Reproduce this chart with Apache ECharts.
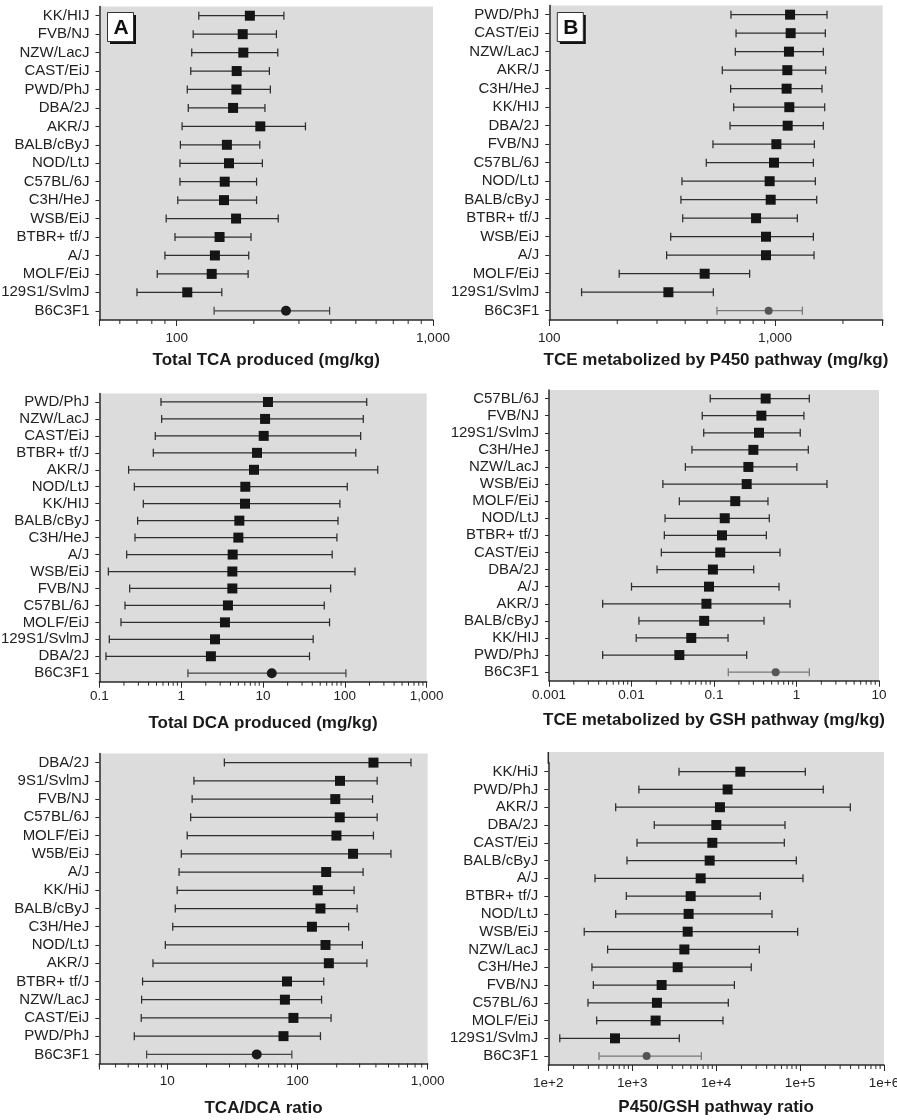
<!DOCTYPE html>
<html>
<head>
<meta charset="utf-8">
<script src="https://cdn.jsdelivr.net/npm/echarts/dist/echarts.min.js"></script>
<style>
html,body{margin:0;padding:0;background:#fff;}
#chart{width:897px;height:1120px;}
</style>
</head>
<body>
<div id="chart"></div>
<script>
// ---------- DATA ----------
const catsA = ['KK/HIJ','FVB/NJ','NZW/LacJ','CAST/EiJ','PWD/PhJ','DBA/2J','AKR/J','BALB/cByJ','NOD/LtJ','C57BL/6J','C3H/HeJ','WSB/EiJ','BTBR+ tf/J','A/J','MOLF/EiJ','129S1/SvlmJ','B6C3F1'];
const midA  = [193,181,182,171.5,171,166,212,157,160,154,153,170.5,147,141,137,110,267];
const lowA  = [122,116,114.5,113.5,110,111,105,103.4,103,103,101,91,98.5,90,84,70,140];
const highA = [262,245,248,230,232,221,318,211,216,205,205,249,195,191,190,150,395];

const catsB = ['PWD/PhJ','CAST/EiJ','NZW/LacJ','AKR/J','C3H/HeJ','KK/HIJ','DBA/2J','FVB/NJ','C57BL/6J','NOD/LtJ','BALB/cByJ','BTBR+ tf/J','WSB/EiJ','A/J','MOLF/EiJ','129S1/SvlmJ','B6C3F1'];
const midB  = [1166,1173,1153,1134,1126,1157,1138,1014,990,947,957,824,912,912,488,337,937];
const lowB  = [638,672,667,584,636,656,632,531,496,387,383,390,345,331,204,139,553];
const highB = [1700,1671,1637,1677,1615,1660,1637,1494,1479,1509,1530,1256,1479,1489,772,533,1322];

const catsC = ['PWD/PhJ','NZW/LacJ','CAST/EiJ','BTBR+ tf/J','AKR/J','NOD/LtJ','KK/HIJ','BALB/cByJ','C3H/HeJ','A/J','WSB/EiJ','FVB/NJ','C57BL/6J','MOLF/EiJ','129S1/SvlmJ','DBA/2J','B6C3F1'];
const midC  = [11.5,10.6,10.2,8.45,7.76,6.08,6.03,5.14,5.0,4.26,4.22,4.22,3.73,3.43,2.59,2.31,12.8];
const lowC  = [0.567,0.578,0.483,0.457,0.228,0.268,0.345,0.294,0.273,0.216,0.129,0.235,0.206,0.184,0.1325,0.1206,1.21];
const highC = [185,168,156,136,252,107,87,82.5,80,70,133,67,56,65,41,37,103];

const catsD = ['C57BL/6J','FVB/NJ','129S1/SvlmJ','C3H/HeJ','NZW/LacJ','WSB/EiJ','MOLF/EiJ','NOD/LtJ','BTBR+ tf/J','CAST/EiJ','DBA/2J','A/J','AKR/J','BALB/cByJ','KK/HIJ','PWD/PhJ','B6C3F1'];
const midD  = [0.423,0.375,0.351,0.30,0.261,0.249,0.181,0.135,0.125,0.119,0.097,0.087,0.081,0.076,0.053,0.038,0.559];
const lowD  = [0.090,0.072,0.075,0.054,0.045,0.024,0.038,0.0255,0.025,0.023,0.0204,0.010,0.00447,0.0123,0.0114,0.00447,0.149];
const highD = [1.43,1.23,1.11,1.39,1.01,2.34,0.451,0.468,0.431,0.631,0.303,0.614,0.834,0.404,0.148,0.249,1.43];

const catsE = ['DBA/2J','9S1/SvlmJ','FVB/NJ','C57BL/6J','MOLF/EiJ','W5B/EiJ','A/J','KK/HiJ','BALB/cByJ','C3H/HeJ','NOD/LtJ','AKR/J','BTBR+ tf/J','NZW/LacJ','CAST/EiJ','PWD/PhJ','B6C3F1'];
const midE  = [383,212,195,211,199,267,166,143,150,129,164,174,83,80,93,78,48.6];
const lowE  = [27.4,16.0,15.5,15.1,14.2,12.8,12.3,11.9,11.5,11.0,9.65,7.75,6.45,6.34,6.3,5.57,6.93];
const highE = [744,409,377,409,383,522,319,272,287,247,315,341,159,153,181,150,90.4];

const catsF = ['KK/HiJ','PWD/PhJ','AKR/J','DBA/2J','CAST/EiJ','BALB/cByJ','A/J','BTBR+ tf/J','NOD/LtJ','WSB/EiJ','NZW/LacJ','C3H/HeJ','FVB/NJ','C57BL/6J','MOLF/EiJ','129S1/SvlmJ','B6C3F1'];
const midF  = [19400,13700,11100,10050,9000,8370,6540,4970,4700,4580,4180,3480,2240,1970,1900,623,1485];
const lowF  = [3610,1200,635,1830,1140,866,360,850,635,268,509,331,344,297,377,137,402];
const highF = [115500,189000,397000,66100,64900,90200,108300,33600,46300,93600,32700,26200,16500,13960,12060,3640,6660];

const axisTitles = ['Total TCA produced (mg/kg)','TCE metabolized by P450 pathway (mg/kg)','Total DCA produced (mg/kg)','TCE metabolized by GSH pathway (mg/kg)','TCA/DCA ratio','P450/GSH pathway ratio'];
const panelLetters = ['A','B'];

// ---------- LAYOUT / STYLE ----------
const panels = [
  {cats:catsA, mid:midA, low:lowA, high:highA, min:50,    max:1000, fmt:'comma', g:{left:99.5, top:6.5,  width:333.5, height:313.5}, lm:11,  gap:32,   refDot:'#1a1a1a', refBar:'#444', refSize:10},
  {cats:catsB, mid:midB, low:lowB, high:highB, min:100,   max:3000, fmt:'comma', g:{left:549.3,top:5.4,  width:333.4, height:314.6}, lm:11,  gap:32,   refDot:'#555',    refBar:'#777', refSize:8},
  {cats:catsC, mid:midC, low:lowC, high:highC, min:0.1,   max:1000, fmt:'comma', g:{left:99.3, top:393.5,width:327.4, height:288.2}, lm:7.5, gap:33.5, refDot:'#1a1a1a', refBar:'#444', refSize:10},
  {cats:catsD, mid:midD, low:lowD, high:highD, min:0.001, max:10,   fmt:'comma', g:{left:549,  top:390,  width:330,   height:290.7}, lm:8,   gap:31,   refDot:'#555',    refBar:'#777', refSize:8},
  {cats:catsE, mid:midE, low:lowE, high:highE, min:3,     max:1000, fmt:'comma', g:{left:99.3, top:753.5,width:328.4, height:310},   lm:11,  gap:36.5, refDot:'#1a1a1a', refBar:'#444', refSize:10},
  {cats:catsF, mid:midF, low:lowF, high:highF, min:100,   max:1e6,  fmt:'exp',   g:{left:548.3,top:762.8,width:335.7, height:302.2}, lm:11,  gap:33.5, refDot:'#555',    refBar:'#777', refSize:8}
];

const BG = '#dcdcdc';
const AX = '#2a2a2a';
const FONT = '"Liberation Sans", Arial, sans-serif';

function tickFormatter(kind) {
  return function (v) {
    const l = Math.log10(v);
    const e = Math.round(l);
    if (Math.abs(l - e) > 1e-6) return '';
    if (kind === 'exp') return '1e+' + e;
    const n = Math.pow(10, e);
    return n >= 1 ? n.toLocaleString('en-US') : String(+n.toPrecision(1));
  };
}

function minorTickValues(min, max) {
  const out = [];
  for (let d = Math.floor(Math.log10(min)) - 1; d <= Math.ceil(Math.log10(max)); d++) {
    for (let m = 2; m <= 9; m++) {
      const v = m * Math.pow(10, d);
      if (v >= min * 0.9999 && v <= max * 1.0001) out.push(v);
    }
  }
  return out;
}

const grids = [], xAxes = [], yAxes = [], series = [];
panels.forEach((p, i) => {
  grids.push(Object.assign({show:true, backgroundColor:BG, borderWidth:0, containLabel:false, outerBoundsMode:'none'}, p.g));
  xAxes.push({
    type:'log', logBase:10, gridIndex:i, min:p.min, max:p.max,
    axisLine:{show:true, onZero:false, lineStyle:{color:AX, width:1.5}},
    axisTick:{show:true, length:6, lineStyle:{color:AX, width:1}},
    splitLine:{show:false}, minorTick:{show:false},
    axisLabel:{formatter:tickFormatter(p.fmt), fontFamily:FONT, fontSize:13.5, color:'#222', margin:p.lm, showMinLabel:true, showMaxLabel:true, hideOverlap:false},
    name:axisTitles[i], nameLocation:'middle', nameGap:p.gap,
    nameTextStyle:{fontFamily:FONT, fontWeight:'bold', fontSize:17, color:'#1a1a1a'}
  });
  yAxes.push({
    type:'category', gridIndex:i, data:p.cats, inverse:true,
    axisLine:{show:true, onZero:false, lineStyle:{color:AX, width:1.5}},
    axisTick:{show:true, length:4, alignWithLabel:true, interval:0, lineStyle:{color:AX, width:1}},
    splitLine:{show:false},
    axisLabel:{fontFamily:FONT, fontSize:15, color:'#222', margin:10, interval:0, hideOverlap:false}
  });
  // error bars
  series.push({
    type:'custom', xAxisIndex:i, yAxisIndex:i, z:2, silent:true,
    encode:{x:[0,2], y:1},
    data:p.cats.map((c,k) => [p.low[k], k, p.high[k]]),
    renderItem:function (params, api) {
      const k = api.value(1);
      const a = api.coord([api.value(0), k]);
      const b = api.coord([api.value(2), k]);
      const isRef = p.cats[params.dataIndex] === 'B6C3F1';
      const col = isRef ? p.refBar : '#2e2e2e';
      const st = {stroke:col, lineWidth:1.25};
      return {type:'group', children:[
        {type:'line', shape:{x1:a[0], y1:a[1], x2:b[0], y2:b[1]}, style:st},
        {type:'line', shape:{x1:a[0], y1:a[1]-4, x2:a[0], y2:a[1]+4}, style:st},
        {type:'line', shape:{x1:b[0], y1:b[1]-4, x2:b[0], y2:b[1]+4}, style:st}
      ]};
    }
  });
  // point estimates
  series.push({
    type:'scatter', xAxisIndex:i, yAxisIndex:i, z:3, silent:true,
    data:p.cats.map((c,k) => c === 'B6C3F1'
      ? {value:[p.mid[k], k], symbol:'circle', symbolSize:p.refSize, itemStyle:{color:p.refDot, opacity:1}}
      : {value:[p.mid[k], k], symbol:'rect', symbolSize:10, itemStyle:{color:'#151515', opacity:1}})
  });
  // minor ticks on log axis (2..9 per decade)
  series.push({
    type:'custom', xAxisIndex:i, yAxisIndex:i, z:1, silent:true, clip:false,
    encode:{x:0, y:1},
    data:minorTickValues(p.min, p.max).map(v => [v, 0]),
    renderItem:function (params, api) {
      const cs = params.coordSys;
      const x = api.coord([api.value(0), 0])[0];
      const yb = cs.y + cs.height;
      return {type:'line', shape:{x1:x, y1:yb, x2:x, y2:yb + 4}, style:{stroke:AX, lineWidth:1}};
    }
  });
});

// panel letter boxes and the taller gray background of the last panel
const graphics = [];
[[panels[0].g.left + 7.5, 12], [panels[1].g.left + 7.5, 12]].forEach((pos, j) => {
  graphics.push({type:'rect', left:pos[0] + 3, top:pos[1] + 3, shape:{width:26, height:29}, style:{fill:'#111'}, z:10});
  graphics.push({type:'rect', left:pos[0], top:pos[1], shape:{width:26, height:29}, style:{fill:'#fff', stroke:'#333', lineWidth:1}, z:11});
  graphics.push({type:'text', left:pos[0] + 6.5, top:pos[1] + 5.5, style:{text:panelLetters[j], font:'bold 21px ' + FONT, fill:'#111'}, z:12});
});
const gF = panels[5].g;
graphics.push({type:'rect', left:gF.left, top:752, shape:{width:gF.width, height:gF.top - 752 + 0.5}, style:{fill:BG}, z:0});
graphics.push({type:'line', shape:{x1:gF.left, y1:752, x2:gF.left, y2:gF.top + 1}, style:{stroke:AX, lineWidth:1.5}, z:5});

const chart = echarts.init(document.getElementById('chart'), null, {renderer:'canvas'});
chart.setOption({
  animation:false,
  backgroundColor:'#fff',
  grid:grids, xAxis:xAxes, yAxis:yAxes, series:series, graphic:graphics
});
</script>
</body>
</html>
